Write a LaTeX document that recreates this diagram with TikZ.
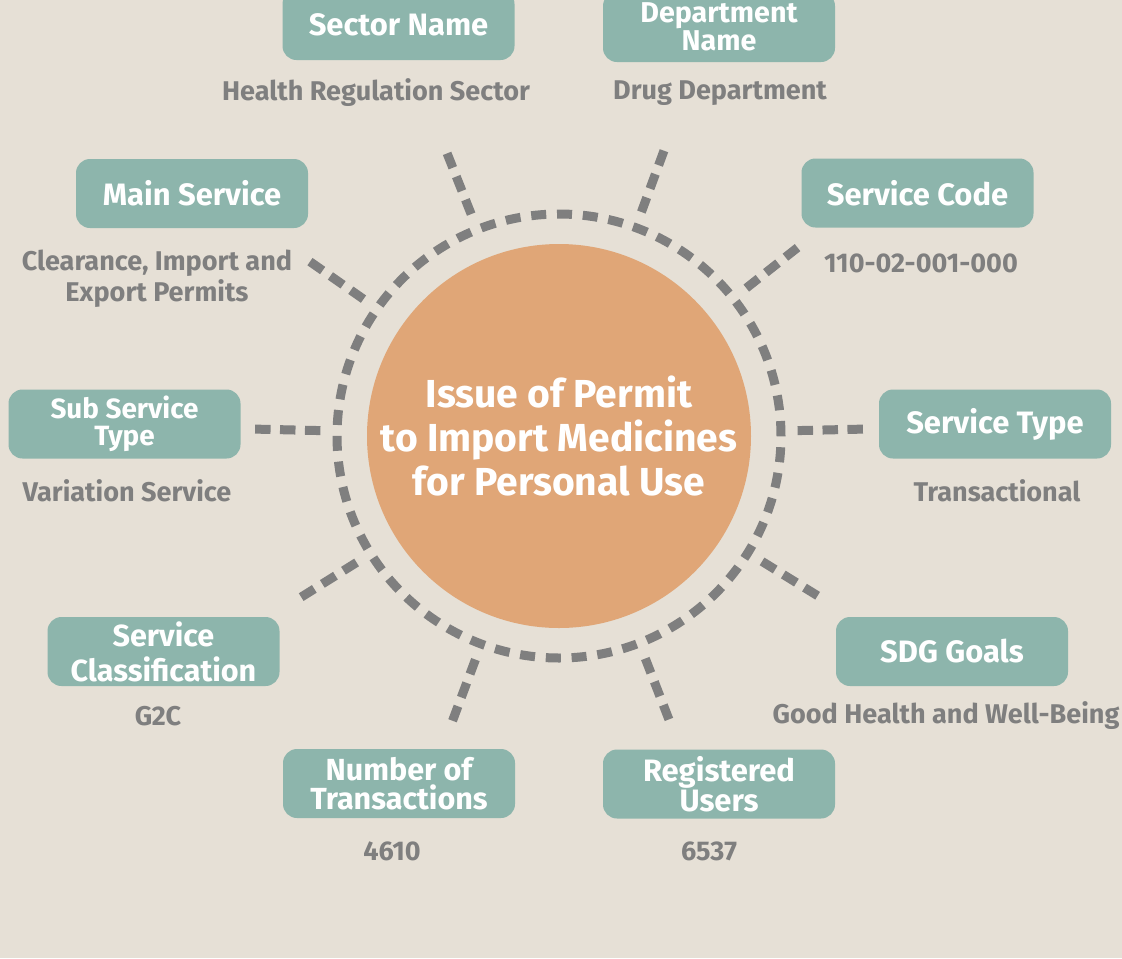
\documentclass[tikz,border=0pt]{standalone}
\usepackage{fontspec}
\setmainfont{Fira Sans}
\usetikzlibrary{calc}
\definecolor{bgc}{HTML}{E6E0D6}
\definecolor{boxteal}{HTML}{8DB5AC}
\definecolor{orng}{HTML}{E0A677}
\definecolor{dgray}{HTML}{7F7F7F}
\begin{document}
\begin{tikzpicture}[x=0.75pt,y=-0.75pt,
  box/.style={fill=boxteal, rounded corners=10.5pt, minimum width=174pt, minimum height=51.75pt, text=white, font=\bfseries\fontsize{23.2}{26}\selectfont, align=center, inner sep=0pt},
  lbl/.style={text=dgray, font=\bfseries\fontsize{20.3}{23.5}\selectfont, align=center, inner sep=0pt},
  conn/.style={draw=dgray, line width=6.75pt, dash pattern=on 11.6pt off 7.1pt}
]
\fill[bgc] (0,0) rectangle (1122,958);
\useasboundingbox (0,0) rectangle (1122,958);

% centre
\node[circle, fill=orng, minimum size=288pt, inner sep=0pt, text=white, align=center,
      font=\bfseries\fontsize{29.3}{33}\selectfont] (core) at (559,436)
      {Issue of Permit\\to Import Medicines\\for Personal Use};
\node[circle, draw=dgray, line width=6.75pt, dash pattern=on 11.25pt off 8.12pt,
      minimum size=333pt, inner sep=0pt] (ring) at (559,436) {};

% boxes
\node[box, minimum height=52.5pt] (sector) at (398.5,25) {Sector Name};
\node[box, minimum height=52.5pt, font=\bfseries\fontsize{21.5}{19.5}\selectfont] (dept) at (719,27) {Department\\Name};
\node[box] (main) at (192,193.5) {Main Service};
\node[box] (code) at (917.5,193) {Service Code};
\node[box, font=\bfseries\fontsize{20.9}{20.25}\selectfont] (subtype) at (124.5,424) {Sub Service\\Type};
\node[box] (stype) at (995,424) {Service Type};
\node[box, font=\bfseries\fontsize{22.9}{26.25}\selectfont] (classif) at (163.5,651.5) {Service\\Classification};
\node[box] (sdg) at (952,651.5) {SDG Goals};
\node[box, font=\bfseries\fontsize{22.9}{21.75}\selectfont] (trans) at (399,783.5) {Number of\\Transactions};
\node[box, font=\bfseries\fontsize{23.2}{22.5}\selectfont] (users) at (719,784) {Registered\\Users};

% labels
\node[lbl] (lsector) at (376,93) {Health Regulation Sector};
\node[lbl] (ldept) at (720,93) {Drug Department};
\node[lbl] (lmain) at (157,278.5) {Clearance, Import and\\Export Permits};
\node[lbl] (lcode) at (921,263) {110-02-001-000};
\node[lbl] (lsub) at (127,491) {Variation Service};
\node[lbl] (ltype) at (997,491) {Transactional};
\node[lbl] (lclass) at (158,716) {G2C};
\node[lbl] (lsdg) at (946,716) {Good Health and Well-Being};
\node[lbl] (ltrans) at (392,851) {4610};
\node[lbl] (lusers) at (709,851) {6537};

% connectors
\foreach \nm/\ang in {sector/111.6, dept/69.8, main/145, code/38.3, subtype/178.7, stype/1.3, classif/212, sdg/328.3, trans/249.5, users/291.2}{
  \coordinate (o-\nm) at ($(core.center)+(\ang:228pt)$);
  \coordinate (i-\nm) at ($(core.center)+(\ang:177.75pt)$);
  \draw[conn] (o-\nm) -- (i-\nm);
}
\end{tikzpicture}
\end{document}
